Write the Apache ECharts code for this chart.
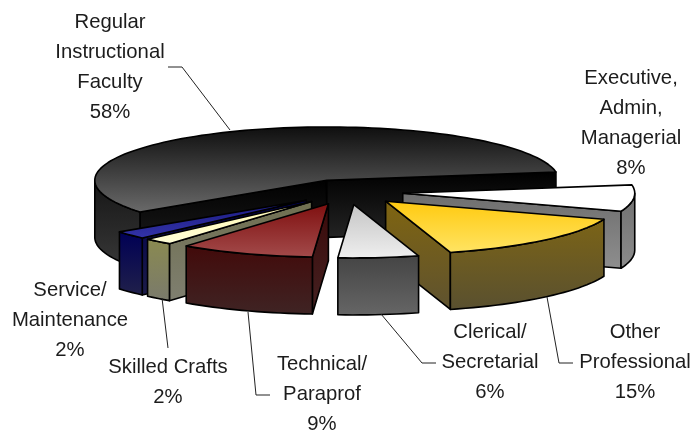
<!DOCTYPE html>
<html>
<head>
<meta charset="utf-8">
<style>html,body{margin:0;padding:0;background:#fff}#c{width:696px;height:436px}</style>
<script src="https://cdn.jsdelivr.net/npm/echarts@6/dist/echarts.min.js"></script>
</head>
<body>
<div id="c"></div>
<script>
// Data, clockwise from the right-hand edge of the large slice (labels show rounded %)
const categories = ['Executive,\nAdmin,\nManagerial', 'Other\nProfessional', 'Clerical/\nSecretarial',
  'Technical/\nParaprof', 'Skilled Crafts', 'Service/\nMaintenance', 'Regular\nInstructional\nFaculty'];
const shares = [8, 15, 5.6, 9.4, 2, 2.4, 57.6];

// Projection of the tilted pie
const CX = 348, CY = 192, R = 232, TILT = 0.23, DEPTH = 57, EXPLODE = 55, START_DEG = -9;

// Label centres and leader lines, same order as the data
const labelCentres = [[631, 123.5], [635, 362.5], [490, 362.5], [322, 394], [168, 382], [70, 320], [110, 67]];
const leaders = [
  null,
  [[547, 297], [559, 363], [573, 363]],
  [[381, 314], [422, 363], [436, 363]],
  [[248, 312], [256, 395], [270, 395]],
  [[162, 298], [168, 348]],
  null,
  [[230, 130], [182, 67], [168, 67]]
];
// top gradient, radial wall gradient, outer wall gradient
const paints = [
  [['#ffffff', '#ffffff'], ['#6e6e6e', '#8e8e8e'], ['#707070', '#8c8c8c']],
  [['#ffc90e', '#ffe464'], ['#806510', '#5e5230'], ['#7c6416', '#595030']],
  [['#c4c4c4', '#efefef'], ['#555555', '#666666'], ['#444444', '#666666']],
  [['#7f0f0f', '#a34b4b'], ['#3a0a0a', '#452222'], ['#420a0a', '#3f2424']],
  [['#fff8b0', '#ffffd8'], ['#6f6f50', '#7f7f70'], ['#8a8a50', '#7a7a6c']],
  [['#1a1a80', '#3333a8'], ['#00004f', '#1c1c48'], ['#000055', '#20204a']],
  [['#0e0e0e', '#6a6a6a'], ['#000000', '#242424'], ['#161616', '#383838']]
];

const total = shares.reduce((a, b) => a + b, 0);
const rad = d => d * Math.PI / 180;
const slices = [];
let acc = START_DEG;
shares.forEach((v, i) => {
  const a0 = acc, a1 = acc + v / total * 360;
  acc = a1;
  const mid = (a0 + a1) / 2;
  slices.push({
    a0, a1, mid,
    cx: CX + EXPLODE * Math.cos(rad(mid)),
    cy: CY + EXPLODE * TILT * Math.sin(rad(mid))
  });
});
// back to front
const rank = {};
slices.map((s, i) => [Math.sin(rad(s.mid)), i]).sort((a, b) => a[0] - b[0]).forEach((p, r) => { rank[p[1]] = r; });

const grad = c => new echarts.graphic.LinearGradient(0, 0, 0, 1, [{ offset: 0, color: c[0] }, { offset: 1, color: c[1] }]);
const rim = (s, a, dy) => [s.cx + R * Math.cos(rad(a)), s.cy + R * TILT * Math.sin(rad(a)) + (dy || 0)];
const arc = (s, a, b, dy) => {
  const pts = [], n = Math.max(2, Math.ceil(Math.abs(b - a) / 2));
  for (let j = 0; j <= n; j++) pts.push(rim(s, a + (b - a) * j / n, dy));
  return pts;
};

function renderItem(params, api) {
  const i = params.dataIndex;
  const s = slices[i];
  const p = paints[i];
  const z = rank[i] * 10 + 10;
  const line = { stroke: '#000', lineWidth: 1.6, lineJoin: 'round' };
  const kids = [];
  const wall = (a, zz) => {
    const q = rim(s, a);
    kids.push({
      type: 'polygon', z2: zz,
      shape: { points: [[s.cx, s.cy], q, [q[0], q[1] + DEPTH], [s.cx, s.cy + DEPTH]] },
      style: Object.assign({ fill: grad(p[1]) }, line)
    });
  };
  // radial walls that face the viewer
  if (Math.cos(rad(s.a0)) < 0) wall(s.a0, z);
  if (Math.cos(rad(s.a1)) > 0) wall(s.a1, z + 1);
  // outer wall, only the front half of the circle
  const windows = [[0, 180], [360, 540]];
  windows.forEach(w => {
    const from = Math.max(s.a0, w[0]), to = Math.min(s.a1, w[1]);
    if (to > from) {
      const upper = arc(s, from, to);
      const lower = arc(s, to, from, DEPTH);
      kids.push({
        type: 'polygon', z2: z + 2,
        shape: { points: upper.concat(lower) },
        style: Object.assign({ fill: grad(p[2]) }, line)
      });
    }
  });
  // top face
  kids.push({
    type: 'polygon', z2: z + 3,
    shape: { points: [[s.cx, s.cy]].concat(arc(s, s.a0, s.a1)) },
    style: Object.assign({ fill: grad(p[0]) }, line)
  });
  // leader
  if (leaders[i]) {
    kids.push({
      type: 'polyline', z2: 200,
      shape: { points: leaders[i] },
      style: { fill: 'none', stroke: '#222', lineWidth: 1 }
    });
  }
  // label
  kids.push({
    type: 'text', z2: 210,
    style: {
      text: categories[i] + '\n' + Math.round(api.value(0)) + '%',
      x: labelCentres[i][0], y: labelCentres[i][1],
      align: 'center', verticalAlign: 'middle',
      fontFamily: '"Liberation Sans", Arial, sans-serif', fontSize: 20.3, lineHeight: 30,
      fill: '#1c1c1c'
    }
  });
  return { type: 'group', children: kids };
}

const chart = echarts.init(document.getElementById('c'), null, { renderer: 'canvas' });
chart.setOption({
  animation: false,
  backgroundColor: '#fff',
  series: [{
    type: 'custom',
    coordinateSystem: 'none',
    renderItem,
    data: shares.map((v, i) => ({ name: categories[i], value: [v] }))
  }]
});
</script>
</body>
</html>
